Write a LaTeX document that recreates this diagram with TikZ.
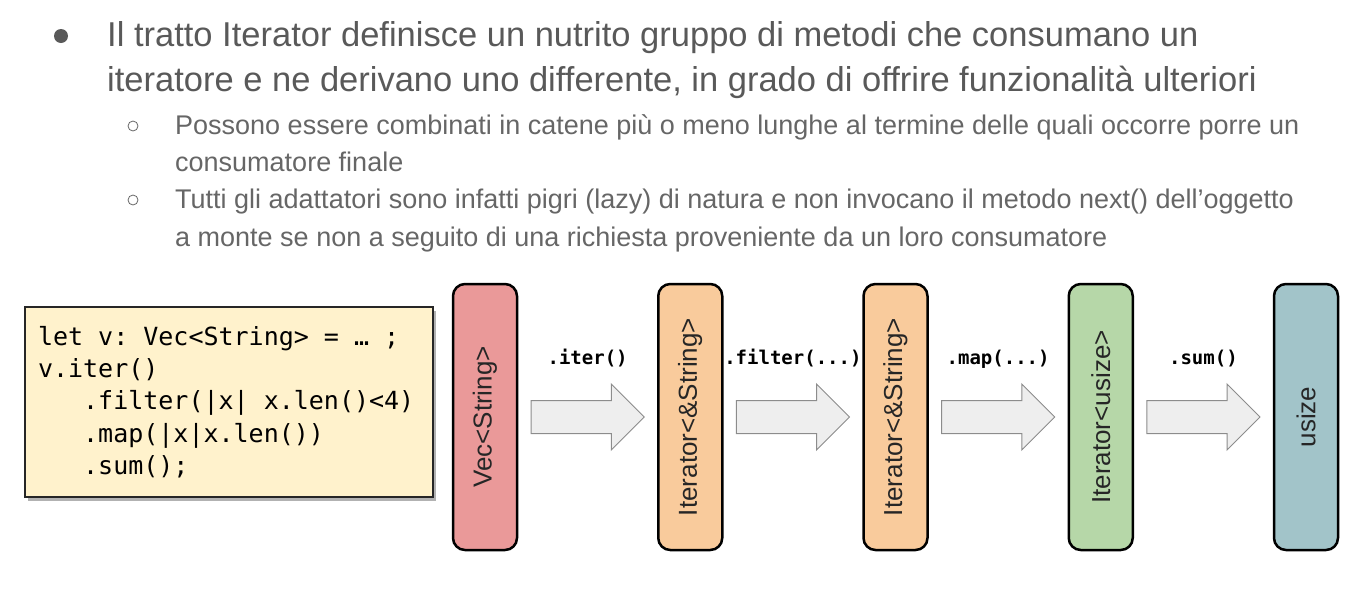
\documentclass[tikz,border=0pt]{standalone}
\usepackage{fontspec}
\setmainfont{Liberation Sans}
\newfontfamily\codefont{DejaVu Sans Mono}[WordSpace={1,0,0}]
\usetikzlibrary{calc,positioning,shadows}

\definecolor{textgray}{HTML}{595959}
\definecolor{subgray}{HTML}{666666}
\definecolor{vecred}{HTML}{EA9999}
\definecolor{iterorange}{HTML}{F9CB9C}
\definecolor{itergreen}{HTML}{B6D7A8}
\definecolor{usizeblue}{HTML}{A2C4C9}
\definecolor{codebg}{HTML}{FFF2CC}
\definecolor{flowfill}{HTML}{EEEEEE}
\definecolor{flowdraw}{HTML}{8C8C8C}

% three dots inside the method labels
\newcommand{\argdots}{...}
% one monospaced cell of blank space
\newcommand{\cell}{\hphantom{x}}

\begin{document}
\begin{tikzpicture}[x=1pt, y=-1pt,
			maintext/.style = {anchor=base west, inner sep=0, text=textgray, font=\fontsize{34.5}{40}\selectfont},
			subtext/.style  = {anchor=base west, inner sep=0, text=subgray, font=\fontsize{27}{32}\selectfont},
			typebox/.style  = {draw=black, line width=2.5pt, rounded corners=12pt, outer sep=0,
				minimum width=64pt, minimum height=266pt, inner sep=0, text=black!85,
				font=\fontsize{26}{30}\selectfont},
			codebox/.style  = {draw=black!85, fill=codebg, line width=1.2pt, text width=382pt, align=left,
				inner xsep=13pt, minimum height=190pt,
				drop shadow={shadow xshift=3pt, shadow yshift=-3.5pt, fill=black, opacity=.3},
				font=\codefont\fontsize{25}{32.3}\selectfont},
			flow/.style     = {draw=flowdraw, fill=flowfill, line width=1pt, line join=miter},
			method/.style   = {anchor=base, inner sep=0, font=\codefont\bfseries\fontsize{19}{21}\selectfont},
			node distance=141.25pt]
			
			\useasboundingbox (0,0) rectangle (1352,600);
			
			% bullets and slide text
			\node[circle, fill=textgray, minimum size=14pt, inner sep=0] (b1) at (61,36) {};
			\node[maintext] (t1) at (107,46) {Il tratto Iterator definisce un nutrito gruppo di metodi che consumano un};
			\node[maintext] (t2) at (107,91) {iteratore e ne derivano uno differente, in grado di offrire funzionalità ulteriori};
			
			\node[circle, draw=subgray, line width=.8pt, minimum size=10pt, inner sep=0] (b2) at (133,126) {};
			\node[subtext] (s1) at (175,134) {Possono essere combinati in catene più o meno lunghe al termine delle quali occorre porre un};
			\node[subtext] (s2) at (175,171) {consumatore finale};
			
			\node[circle, draw=subgray, line width=.8pt, minimum size=10pt, inner sep=0] (b3) at (133,200) {};
			\node[subtext] (s3) at (175,208) {Tutti gli adattatori sono infatti pigri (lazy) di natura e non invocano il metodo next() dell’oggetto};
			\node[subtext] (s4) at (175,246) {a monte se non a seguito di una richiesta proveniente da un loro consumatore};
			
			% the code
			\node[codebox] (code) at (229,402) {let\cell v:\cell Vec<String>\cell=\cell…\cell;\\
				v.iter()\\
				\cell\cell\cell.filter(|x|\cell x.len()<4)\\
				\cell\cell\cell.map(|x|x.len())\\
				\cell\cell\cell.sum();};
			
			% the chain of types
			\node[typebox, fill=vecred] (vec) at (485,417) {\rotatebox{90}{Vec<String>}};
			\node[typebox, fill=iterorange, right=of vec] (its) {\rotatebox{90}{Iterator<\&String>}};
			\node[typebox, fill=iterorange, right=of its] (itf) {\rotatebox{90}{Iterator<\&String>}};
			\node[typebox, fill=itergreen, right=of itf] (itu) {\rotatebox{90}{Iterator<usize>}};
			\node[typebox, fill=usizeblue, right=of itu] (res) {\rotatebox{90}{usize}};
			
			% block arrows from each type to the next one, with the method above
			\foreach \a/\b/\m in {vec/its/.iter(), its/itf/.filter(\argdots), itf/itu/.map(\argdots), itu/res/.sum()} {
				\draw[flow] ($(\a.east)+(14,-16.5)$) -- ($(\b.west)+(-47,-16.5)$) -- ($(\b.west)+(-47,-33)$)
					-- ($(\b.west)+(-14,0)$) -- ($(\b.west)+(-47,33)$) -- ($(\b.west)+(-47,16.5)$)
					-- ($(\a.east)+(14,16.5)$) -- cycle;
				\node[method] (m\a) at ($(\a.east)!.5!(\b.west)+(0,-53)$) {\m};
			}
		\end{tikzpicture}
\end{document}
